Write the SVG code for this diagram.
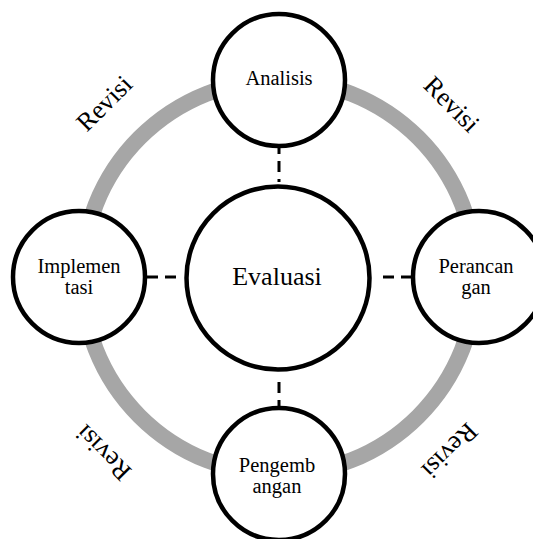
<svg xmlns="http://www.w3.org/2000/svg" width="533" height="539" viewBox="0 0 533 539">
<style>
.ring{fill:none;stroke:#a6a6a6;stroke-width:16}
.node{fill:#fff;stroke:#000;stroke-width:4.5}
.dash{stroke:#000;stroke-width:3;stroke-dasharray:11 7}
.lbl{font-size:20.5px;fill:#000;text-anchor:middle}
.big{font-size:26px;fill:#000;text-anchor:middle}
</style>
<rect width="533" height="539" fill="#fff"/>
<circle class="ring" cx="279" cy="277" r="197"/>
<g id="connectors">
<line class="dash" x1="279" y1="143" x2="279" y2="182"/>
<line class="dash" x1="279" y1="382" x2="279" y2="407"/>
<line class="dash" x1="147" y1="277" x2="182" y2="277"/>
<line class="dash" x1="383" y1="277" x2="411" y2="277"/>
</g>
<g id="revisi-labels" font-family="Liberation Serif, Times New Roman, DejaVu Serif, serif">
<text class="big" transform="translate(104,103) rotate(-45)" y="9">Revisi</text>
<text class="big" transform="translate(452,104) rotate(45)" y="9">Revisi</text>
<text class="big" transform="translate(103,453) rotate(-135)" y="9">Revisi</text>
<text class="big" transform="translate(450,451) rotate(135)" y="9">Revisi</text>
</g>
<g id="analisis" font-family="Liberation Serif, Times New Roman, DejaVu Serif, serif">
<circle class="node" cx="279" cy="80" r="66"/>
<text class="lbl" x="279" y="85">Analisis</text>
</g>
<g id="evaluasi" font-family="Liberation Serif, Times New Roman, DejaVu Serif, serif">
<circle class="node" cx="278" cy="278" r="91.5"/>
<text class="big" x="277" y="285">Evaluasi</text>
</g>
<g id="implementasi" font-family="Liberation Serif, Times New Roman, DejaVu Serif, serif">
<circle class="node" cx="79" cy="277" r="66"/>
<text class="lbl" x="79" y="273">Implemen</text>
<text class="lbl" x="79" y="294">tasi</text>
</g>
<g id="perancangan" font-family="Liberation Serif, Times New Roman, DejaVu Serif, serif">
<circle class="node" cx="479" cy="277" r="66"/>
<text class="lbl" x="476" y="273">Perancan</text>
<text class="lbl" x="476" y="294">gan</text>
</g>
<g id="pengembangan" font-family="Liberation Serif, Times New Roman, DejaVu Serif, serif">
<circle class="node" cx="279" cy="474" r="66"/>
<text class="lbl" x="277" y="472">Pengemb</text>
<text class="lbl" x="277" y="493">angan</text>
</g>
</svg>
